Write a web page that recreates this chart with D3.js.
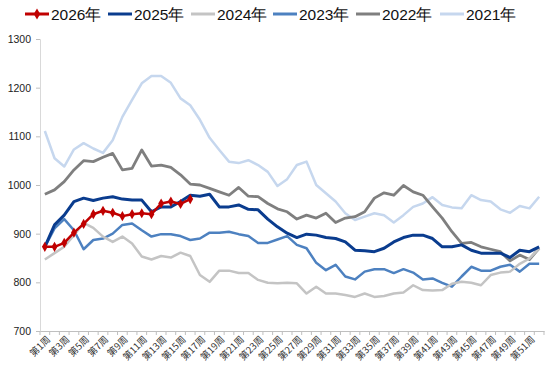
<!DOCTYPE html>
<html><head><meta charset="utf-8">
<script src="https://cdn.jsdelivr.net/npm/d3@7"></script>
<style>body{margin:0;background:#fff}svg{display:block}</style>
</head><body>
<svg id="c" width="550" height="369"></svg>
<script>
const weeks = d3.range(1, 53).map(i => "第" + i + "周");
const yTicks = [700, 800, 900, 1000, 1100, 1200, 1300];
const s2026 = [873,873,881,902,920,940,947,943,936,940,942,940,962,966,961,971];
const s2025 = [873,918,938,966,973,968,973,976,971,969,969,945,955,955,966,979,977,981,955,955,959,950,949,930,914,901,892,899,897,892,890,883,866,865,863,870,883,892,897,897,890,873,873,877,866,860,860,860,851,866,863,873];
const s2024 = [847,860,873,897,922,912,894,883,894,880,853,847,854,851,861,854,815,801,824,824,819,819,805,799,798,799,798,777,791,777,777,774,770,777,770,772,777,779,794,784,783,784,797,801,799,794,815,820,822,838,849,870];
const s2023 = [873,911,930,907,868,887,890,900,918,921,907,894,899,899,895,887,890,902,902,904,899,895,881,881,888,895,877,870,840,825,836,812,806,822,827,827,819,827,820,806,808,799,791,812,832,824,824,832,836,822,838,838];
const s2022 = [981,990,1007,1031,1050,1048,1057,1065,1031,1034,1072,1039,1041,1036,1021,1002,1000,993,986,979,995,977,976,962,951,945,930,938,932,942,923,932,935,945,973,984,979,999,986,979,955,932,904,880,882,873,868,863,844,856,847,870];
const s2021 = [1111,1055,1038,1073,1086,1075,1066,1092,1140,1175,1209,1224,1224,1210,1178,1164,1134,1097,1072,1048,1045,1051,1041,1027,998,1012,1041,1048,1000,983,966,942,928,935,942,938,923,938,955,962,975,959,954,952,979,969,966,950,943,957,952,976];
const seriesNames = ["2026年","2025年","2024年","2023年","2022年","2021年"];

const series = [
  {name: seriesNames[0], values: s2026, color: "#c00000", width: 2.5, marker: true},
  {name: seriesNames[1], values: s2025, color: "#0a3c8e", width: 3},
  {name: seriesNames[2], values: s2024, color: "#c4c4c4", width: 2.5},
  {name: seriesNames[3], values: s2023, color: "#4d81c0", width: 2.5},
  {name: seriesNames[4], values: s2022, color: "#7f7f7f", width: 2.8},
  {name: seriesNames[5], values: s2021, color: "#c6d7ee", width: 2.5}
];

const svg = d3.select("#c");
const mL = 40, mR = 544, mT = 39, mB = 331;
const x = d3.scaleBand().domain(weeks).range([mL, mR]).padding(0);
const y = d3.scaleLinear().domain([700, 1300]).range([mB, mT]);
const cx = w => x(w) + x.bandwidth() / 2;

// Y axis
const ya = svg.append("g").attr("transform", `translate(${mL},0)`)
  .call(d3.axisLeft(y).tickValues(yTicks).tickFormat(d3.format("d")).tickSize(4).tickPadding(5));
ya.select(".domain").attr("stroke", "#d9d9d9");
ya.selectAll(".tick line").attr("stroke", "#bfbfbf");
ya.selectAll("text").attr("font-family", "Liberation Sans, Arial, sans-serif").attr("font-size", 10.5).attr("fill", "#222");

// X axis
const xa = svg.append("g").attr("transform", `translate(0,${mB})`)
  .call(d3.axisBottom(x).tickSize(0).tickFormat(""));
xa.select(".domain").attr("stroke", "#bfbfbf");
xa.selectAll(".tick").remove();
const bounds = weeks.map(w => x(w)).concat([mR]);
xa.selectAll("line.b").data(bounds).enter().append("line")
  .attr("x1", d => d).attr("x2", d => d).attr("y1", 0).attr("y2", 4)
  .attr("stroke", "#bfbfbf");
svg.append("g").selectAll("text").data(weeks.filter((w, i) => i % 2 === 0)).enter().append("text")
  .attr("transform", w => `translate(${cx(w) + 2},${mB + 5}) rotate(-45)`)
  .attr("text-anchor", "end").attr("dy", "0.6em")
  .attr("font-family", "Noto Sans CJK SC, sans-serif").attr("font-size", 9.5).attr("fill", "#333")
  .text(w => w);

// Lines
const line = d3.line().x((d, i) => cx(weeks[i])).y(d => y(d));
const drawOrder = [5, 4, 3, 2, 1, 0];
drawOrder.forEach(k => {
  const s = series[k];
  svg.append("path").datum(s.values).attr("d", line)
    .attr("fill", "none").attr("stroke", s.color).attr("stroke-width", s.width)
    .attr("stroke-linejoin", "round");
  if (s.marker) {
    svg.append("g").selectAll("path").data(s.values).enter().append("path")
      .attr("d", d3.symbol(d3.symbolDiamond, 30))
      .attr("transform", (d, i) => `translate(${cx(weeks[i])},${y(d)})`)
      .attr("fill", s.color);
  }
});

// Legend
const legX = [25, 108, 191, 273, 356, 440];
const lg = svg.append("g");
series.forEach((s, i) => {
  const g = lg.append("g").attr("transform", `translate(${legX[i]},14)`);
  g.append("line").attr("x1", 0).attr("x2", 24).attr("y1", 0).attr("y2", 0)
    .attr("stroke", s.color).attr("stroke-width", 3);
  if (s.marker) g.append("path").attr("d", d3.symbol(d3.symbolDiamond, 36)).attr("transform", "translate(12,0)").attr("fill", s.color);
  g.append("text").attr("x", 26).attr("y", 0).attr("dy", "0.36em")
    .attr("font-family", "Liberation Sans, Arial, sans-serif").attr("font-size", 15.5).attr("fill", "#111")
    .text(s.name);
});
</script>
</body></html>
